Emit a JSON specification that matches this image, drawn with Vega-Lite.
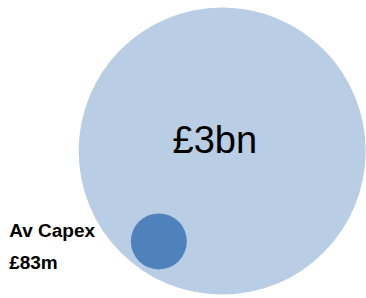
{
  "$schema": "https://vega.github.io/schema/vega-lite/v6.json",
  "width": 366,
  "height": 298,
  "padding": 0,
  "autosize": {"type": "none"},
  "background": "white",
  "config": {"view": {"stroke": null}},
  "datasets": {
    "bubbles": [
      {"item": "Total", "value": 3000, "x": 60.7, "y": 49.3},
      {"item": "Av Capex", "value": 83, "x": 43.4, "y": 19.0}
    ],
    "labels": [
      {"text": "£3bn", "x": 58.7, "y": 48.7, "kind": "big"},
      {"text": "Av Capex", "x": 2.5, "y": 20.5, "kind": "small"},
      {"text": "£83m", "x": 2.5, "y": 9.7, "kind": "small"}
    ]
  },
  "layer": [
    {
      "data": {"name": "bubbles"},
      "mark": {"type": "circle", "opacity": 1},
      "encoding": {
        "x": {"field": "x", "type": "quantitative", "scale": {"domain": [0, 100]}, "axis": null},
        "y": {"field": "y", "type": "quantitative", "scale": {"domain": [0, 100]}, "axis": null},
        "size": {"field": "value", "type": "quantitative", "scale": {"type": "linear", "domain": [83, 3000], "range": [3136, 82369], "zero": false}, "legend": null},
        "color": {"field": "item", "type": "nominal", "scale": {"domain": ["Total", "Av Capex"], "range": ["#B9CDE5", "#4F81BD"]}, "legend": null},
        "order": {"field": "value", "sort": "descending"}
      }
    },
    {
      "data": {"name": "labels"},
      "transform": [{"filter": "datum.kind === 'big'"}],
      "mark": {"type": "text", "align": "center", "baseline": "alphabetic", "font": "Liberation Sans", "fontSize": 38, "color": "#000000"},
      "encoding": {
        "x": {"field": "x", "type": "quantitative", "scale": {"domain": [0, 100]}, "axis": null},
        "y": {"field": "y", "type": "quantitative", "scale": {"domain": [0, 100]}, "axis": null},
        "text": {"field": "text", "type": "nominal"}
      }
    },
    {
      "data": {"name": "labels"},
      "transform": [{"filter": "datum.kind === 'small'"}],
      "mark": {"type": "text", "align": "left", "baseline": "alphabetic", "font": "Liberation Sans", "fontSize": 19, "fontWeight": "bold", "color": "#000000"},
      "encoding": {
        "x": {"field": "x", "type": "quantitative", "scale": {"domain": [0, 100]}, "axis": null},
        "y": {"field": "y", "type": "quantitative", "scale": {"domain": [0, 100]}, "axis": null},
        "text": {"field": "text", "type": "nominal"}
      }
    }
  ]
}
